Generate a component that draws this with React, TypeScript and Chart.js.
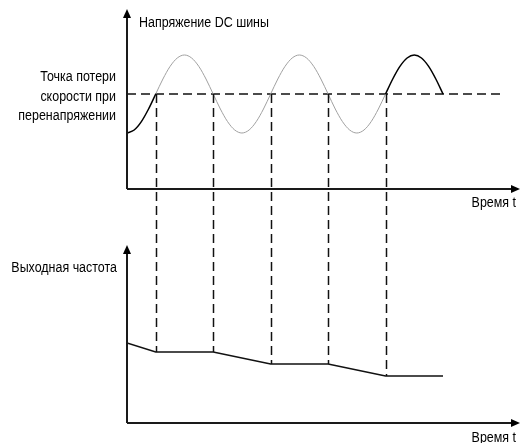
import { useEffect, useRef } from 'react';
import { Chart, registerables } from 'chart.js';

Chart.register(...registerables);

// ---- data ----
const busTime = [
  0, 0.25, 0.5, 0.75, 1, 1.25, 1.5, 1.75, 2, 2.25, 2.5, 2.75, 3, 3.25, 3.5, 3.75,
  4, 4.25, 4.5, 4.75, 5, 5.25, 5.5, 5.75, 6, 6.25, 6.5, 6.75, 7, 7.25, 7.5, 7.75,
  8, 8.25, 8.5, 8.75, 9, 9.25, 9.5, 9.75, 10, 10.25, 10.5, 10.75, 11,
];
const busVoltage = [
  280, 295, 337, 400, 475, 550, 613, 655, 670, 655, 613, 550, 475, 400, 337, 295,
  280, 295, 337, 400, 475, 550, 613, 655, 670, 655, 613, 550, 475, 400, 337, 295,
  280, 295, 337, 400, 475, 550, 613, 655, 670, 655, 613, 550, 475,
];
// time ranges where the bus voltage trace is drawn solid black
const busHighlight: [number, number][] = [
  [0, 1],
  [9, 11],
];
const thresholdVoltage = 475;
const thresholdTime = [0, 13];
const thresholdLabel = ['Точка потери', 'скорости при', 'перенапряжении'];

const freqTime = [0, 1, 3, 5, 7, 9, 11];
const freqValue = [40, 35.5, 35.5, 29.5, 29.5, 23.5, 23.5];
const dropTimes = [1, 3, 5, 7, 9];

const timeMax = 13.68;
const voltageMax = 900;
const freqMax = 117;
const freqArrowTop = 89;

const voltageTitle = 'Напряжение DC шины';
const freqTitle = 'Выходная частота';
const timeTitle = 'Время t';

const FONT = '"Liberation Sans", Arial, sans-serif';
const FONT_SIZE = 14;
const CONDENSE = 0.89;

function drawText(ctx: any, text: string, x: number, y: number, align: 'left' | 'right') {
  ctx.save();
  ctx.translate(x, y);
  ctx.scale(CONDENSE, 1);
  ctx.textAlign = align;
  ctx.textBaseline = 'alphabetic';
  ctx.fillText(text, 0, 0);
  ctx.restore();
}

const diagramPlugin = {
  id: 'diagram',
  afterDatasetsDraw(chart: any) {
    const { ctx } = chart;
    const x = chart.scales.x;
    const yV = chart.scales.yV;
    const yF = chart.scales.yF;
    ctx.save();

    // drop lines from threshold crossings down to the frequency trace
    ctx.setLineDash([9, 5]);
    ctx.lineWidth = 1.5;
    ctx.strokeStyle = '#111';
    const yTh = yV.getPixelForValue(thresholdVoltage);
    for (const t of dropTimes) {
      const i = freqTime.indexOf(t);
      const px = Math.round(x.getPixelForValue(t)) + 0.5;
      ctx.beginPath();
      ctx.moveTo(px, yTh);
      ctx.lineTo(px, yF.getPixelForValue(freqValue[i]));
      ctx.stroke();
    }
    ctx.setLineDash([]);

    // axes with arrows
    const x0 = x.getPixelForValue(0);
    const drawAxes = (yb: number, yt: number) => {
      ctx.strokeStyle = '#1a1a1a';
      ctx.fillStyle = '#000';
      ctx.lineWidth = 2;
      ctx.beginPath();
      ctx.moveTo(x0, yb);
      ctx.lineTo(x0, yt + 8);
      ctx.moveTo(x0, yb);
      ctx.lineTo(x.right - 8, yb);
      ctx.stroke();
      ctx.beginPath();
      ctx.moveTo(x0, yt);
      ctx.lineTo(x0 - 4, yt + 9);
      ctx.lineTo(x0 + 4, yt + 9);
      ctx.closePath();
      ctx.fill();
      ctx.beginPath();
      ctx.moveTo(x.right, yb);
      ctx.lineTo(x.right - 9, yb - 4);
      ctx.lineTo(x.right - 9, yb + 4);
      ctx.closePath();
      ctx.fill();
    };
    const yVTop = yV.getPixelForValue(voltageMax);
    const yFTop = yF.getPixelForValue(freqArrowTop);
    drawAxes(yV.bottom, yVTop);
    drawAxes(yF.bottom, yFTop);

    // texts
    ctx.fillStyle = '#000';
    ctx.font = `${FONT_SIZE}px ${FONT}`;
    drawText(ctx, voltageTitle, x0 + 12, yVTop + 18, 'left');
    thresholdLabel.forEach((line, k) => {
      drawText(ctx, line, x0 - 11, yTh - 13 + k * 19.5, 'right');
    });
    drawText(ctx, timeTitle, x.right - 4, yV.bottom + 18, 'right');
    drawText(ctx, timeTitle, x.right - 4, yF.bottom + 18.5, 'right');
    drawText(ctx, freqTitle, x0 - 10, yFTop + 26.5, 'right');
    ctx.restore();
  },
};

const inRanges = (t: number) => busHighlight.some(([a, b]) => t >= a && t < b);

const hiddenAxis = {
  ticks: { display: false },
  grid: { display: false, drawTicks: false },
  border: { display: false },
};

export default function App() {
  const ref = useRef<HTMLCanvasElement>(null);
  useEffect(() => {
    if (!ref.current) return;
    const chart = new Chart(ref.current, {
      type: 'line',
      data: {
        datasets: [
          {
            data: busTime.map((t, i) => ({ x: t, y: busVoltage[i] })),
            yAxisID: 'yV',
            borderWidth: 1.2,
            borderColor: '#999',
            cubicInterpolationMode: 'monotone',
            pointRadius: 0,
            segment: {
              borderColor: (c: any) => (inRanges(c.p0.parsed.x) ? '#000' : '#a0a0a0'),
              borderWidth: (c: any) => (inRanges(c.p0.parsed.x) ? 1.5 : 1),
            },
          },
          {
            data: thresholdTime.map((t) => ({ x: t, y: thresholdVoltage })),
            yAxisID: 'yV',
            borderWidth: 1.5,
            borderColor: '#111',
            borderDash: [9, 5],
            pointRadius: 0,
          },
          {
            data: freqTime.map((t, i) => ({ x: t, y: freqValue[i] })),
            yAxisID: 'yF',
            borderWidth: 1.5,
            borderColor: '#111',
            pointRadius: 0,
            tension: 0,
          },
        ],
      },
      options: {
        animation: false,
        responsive: false,
        layout: { padding: { top: 9, right: 0, bottom: 20, left: 0 } },
        plugins: { legend: { display: false }, tooltip: { enabled: false } },
        scales: {
          x: {
            type: 'linear',
            position: 'bottom',
            min: 0,
            max: timeMax,
            ...hiddenAxis,
            afterFit: (s: any) => {
              s.height = 0;
            },
          },
          yF: {
            type: 'linear',
            position: 'left',
            stack: 'panels',
            stackWeight: 234,
            min: 0,
            max: freqMax,
            ...hiddenAxis,
            afterFit: (s: any) => {
              s.width = 127;
            },
          },
          yV: {
            type: 'linear',
            position: 'left',
            stack: 'panels',
            stackWeight: 180,
            min: 0,
            max: voltageMax,
            ...hiddenAxis,
            afterFit: (s: any) => {
              s.width = 127;
            },
          },
        },
      } as any,
      plugins: [diagramPlugin],
    });
    return () => chart.destroy();
  }, []);
  return (
    <div style={{ position: 'fixed', left: 0, top: 0, width: 520, height: 443 }}>
      <canvas ref={ref} width={520} height={443} style={{ display: 'block' }} />
    </div>
  );
}
